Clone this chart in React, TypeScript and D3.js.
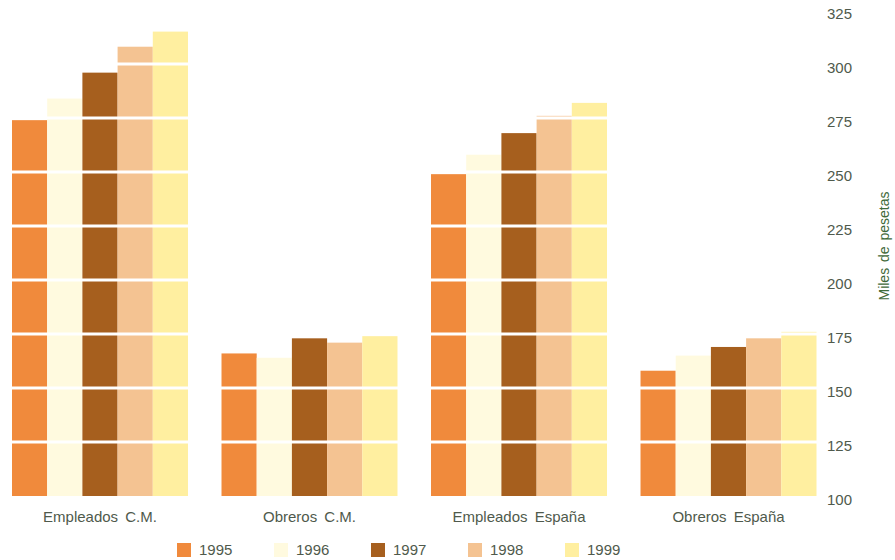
import React from "react";
import * as d3 from "d3";

const categories = ["Empleados C.M.", "Obreros C.M.", "Empleados España", "Obreros España"];
const years = ["1995", "1996", "1997", "1998", "1999"];
const values1995 = [274, 166, 249, 158];
const values1996 = [284, 164, 258, 165];
const values1997 = [296, 173, 268, 169];
const values1998 = [308, 171, 276, 173];
const values1999 = [315, 174, 282, 176];
const seriesValues = [values1995, values1996, values1997, values1998, values1999];
const colors = ["#F08A3C", "#FFFADF", "#A65F1E", "#F4C392", "#FFEFA0"];
const ticks = [100, 125, 150, 175, 200, 225, 250, 275, 300, 325];

const W = 895;
const H = 560;

export default function App() {
  const y = d3.scaleLinear().domain([100, 325]).range([496, 10]);
  const x0 = d3.scaleBand<string>().domain(categories).range([12, 816.5]).paddingInner(0.16).paddingOuter(0);
  const x1 = d3.scaleBand<string>().domain(years).range([0, x0.bandwidth()]).padding(0);
  const legendX = d3.scaleBand<string>().domain(years).range([177, 177 + 97 * 5]);
  const textColor = "#4f5a4c";
  const font = "'Liberation Sans', Arial, sans-serif";

  return (
    <svg width={W} height={H} style={{ position: "absolute", left: 0, top: 0, background: "#fff" }} fontFamily={font}>
      {categories.map((c, ci) => (
        <g key={c} transform={`translate(${x0(c)},0)`}>
          {years.map((yr, yi) => {
            const v = seriesValues[yi][ci];
            return (
              <rect
                key={yr}
                x={x1(yr)}
                y={y(v)}
                width={x1.bandwidth()}
                height={y(100) - y(v)}
                fill={colors[yi]}
              />
            );
          })}
        </g>
      ))}
      {ticks.slice(1).map((t) => (
        <line key={t} x1={0} x2={820} y1={y(t)} y2={y(t)} stroke="#fff" strokeWidth={3} />
      ))}
      {ticks.map((t) => (
        <text key={t} x={827} y={y(t) + 4} dy="0.35em" fontSize={15} fill={textColor}>
          {t}
        </text>
      ))}
      <text
        transform={`translate(884,246) rotate(-90)`}
        textAnchor="middle"
        dy="0.35em"
        fontSize={14}
        wordSpacing={2}
        fill="#3f6a3a"
      >
        Miles de pesetas
      </text>
      {categories.map((c) => (
        <text
          key={c}
          x={(x0(c) as number) + x0.bandwidth() / 2}
          y={517}
          dy="0.35em"
          textAnchor="middle"
          fontSize={15}
          wordSpacing={3}
          fill={textColor}
        >
          {c}
        </text>
      ))}
      {years.map((yr, yi) => (
        <g key={yr} transform={`translate(${legendX(yr)},543)`}>
          <rect width={14} height={14} fill={colors[yi]} />
          <text x={22} y={7} dy="0.35em" fontSize={15} fill={textColor}>
            {yr}
          </text>
        </g>
      ))}
    </svg>
  );
}
